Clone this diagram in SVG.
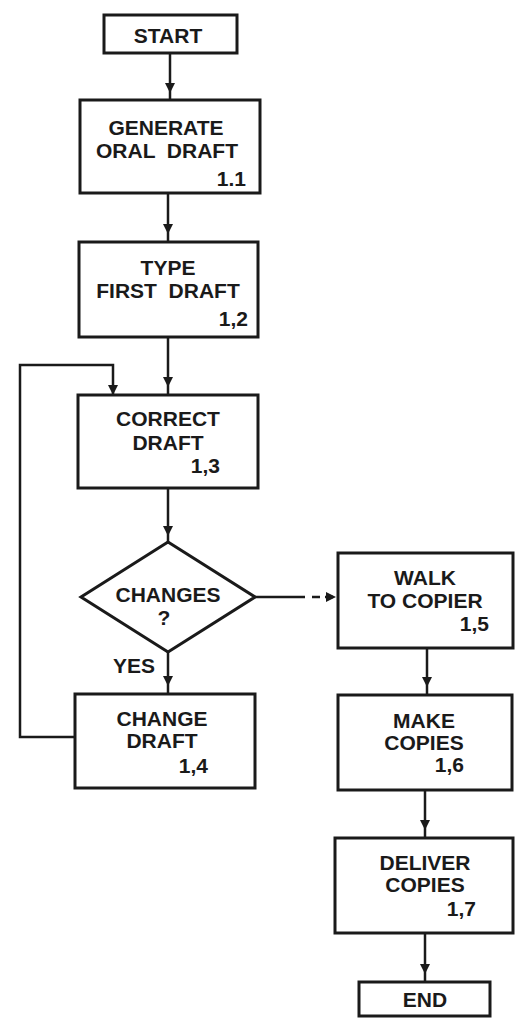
<svg xmlns="http://www.w3.org/2000/svg" width="517" height="1019" viewBox="0 0 517 1019">
<style>
.box{fill:#fff;stroke:#1a1a1a;stroke-width:3}
.t{font-family:"Liberation Sans",Arial,sans-serif;font-weight:bold;font-size:21px;fill:#1a1a1a;text-anchor:middle}
.n{text-anchor:end}
.c{fill:none;stroke:#1a1a1a;stroke-width:2.5}
</style>
<defs>
<marker id="ah" viewBox="0 0 10 10" refX="10" refY="5" markerWidth="10" markerHeight="10" markerUnits="userSpaceOnUse" orient="auto">
<path d="M0,0 L10,5 L0,10 Z" fill="#1a1a1a"/>
</marker>
</defs>
<rect width="517" height="1019" fill="#fff"/>
<g id="connectors">
<path class="c" d="M170,53 L170,93 L170,100" marker-mid="url(#ah)"/>
<path class="c" d="M168,193 L168,234 L168,242" marker-mid="url(#ah)"/>
<path class="c" d="M168,337 L168,387 L168,395" marker-mid="url(#ah)"/>
<path class="c" d="M168,488 L168,536 L168,542" marker-mid="url(#ah)"/>
<path class="c" d="M168,652 L168,686 L168,694" marker-mid="url(#ah)"/>
<path class="c" d="M74,737 L20,737 L20,365 L113,365 L113,387 L113,395" marker-end="url(#ah)"/>
<path class="c" d="M255,597 L305,597"/>
<path class="c" d="M312,597 L336,597" stroke-dasharray="8,5" marker-end="url(#ah)"/>
<path class="c" d="M427,648 L427,687 L427,695" marker-mid="url(#ah)"/>
<path class="c" d="M425,790 L425,830 L425,838" marker-mid="url(#ah)"/>
<path class="c" d="M425,933 L425,974 L425,982" marker-mid="url(#ah)"/>
</g>
<g id="start">
<rect class="box" x="104" y="15" width="133" height="38"/>
<text class="t" x="168" y="43">START</text>
</g>
<g id="n11">
<rect class="box" x="80" y="100" width="180" height="93"/>
<text class="t" x="166" y="135">GENERATE</text>
<text class="t" x="167" y="158" xml:space="preserve">ORAL  DRAFT</text>
<text class="t n" x="246" y="186">1.1</text>
</g>
<g id="n12">
<rect class="box" x="79" y="242" width="179" height="95"/>
<text class="t" x="168" y="275">TYPE</text>
<text class="t" x="168" y="298" xml:space="preserve">FIRST  DRAFT</text>
<text class="t n" x="248" y="326">1,2</text>
</g>
<g id="n13">
<rect class="box" x="78" y="395" width="180" height="93"/>
<text class="t" x="168" y="426">CORRECT</text>
<text class="t" x="168" y="450">DRAFT</text>
<text class="t n" x="220" y="473">1,3</text>
</g>
<g id="decision">
<polygon class="box" points="168,542 255,597 168,652 81,597"/>
<text class="t" x="168" y="602">CHANGES</text>
<text class="t" x="164" y="625">?</text>
<text class="t" x="134" y="673">YES</text>
</g>
<g id="n14">
<rect class="box" x="75" y="694" width="180" height="94"/>
<text class="t" x="162" y="726">CHANGE</text>
<text class="t" x="162" y="748">DRAFT</text>
<text class="t n" x="208" y="773">1,4</text>
</g>
<g id="n15">
<rect class="box" x="338" y="553" width="175" height="95"/>
<text class="t" x="425" y="585">WALK</text>
<text class="t" x="425" y="608">TO COPIER</text>
<text class="t n" x="489" y="631">1,5</text>
</g>
<g id="n16">
<rect class="box" x="338" y="695" width="174" height="95"/>
<text class="t" x="424" y="728">MAKE</text>
<text class="t" x="424" y="750">COPIES</text>
<text class="t n" x="464" y="772">1,6</text>
</g>
<g id="n17">
<rect class="box" x="335" y="838" width="178" height="95"/>
<text class="t" x="425" y="870">DELIVER</text>
<text class="t" x="425" y="892">COPIES</text>
<text class="t n" x="476" y="916">1,7</text>
</g>
<g id="end">
<rect class="box" x="359" y="982" width="131" height="34"/>
<text class="t" x="425" y="1007">END</text>
</g>
</svg>
